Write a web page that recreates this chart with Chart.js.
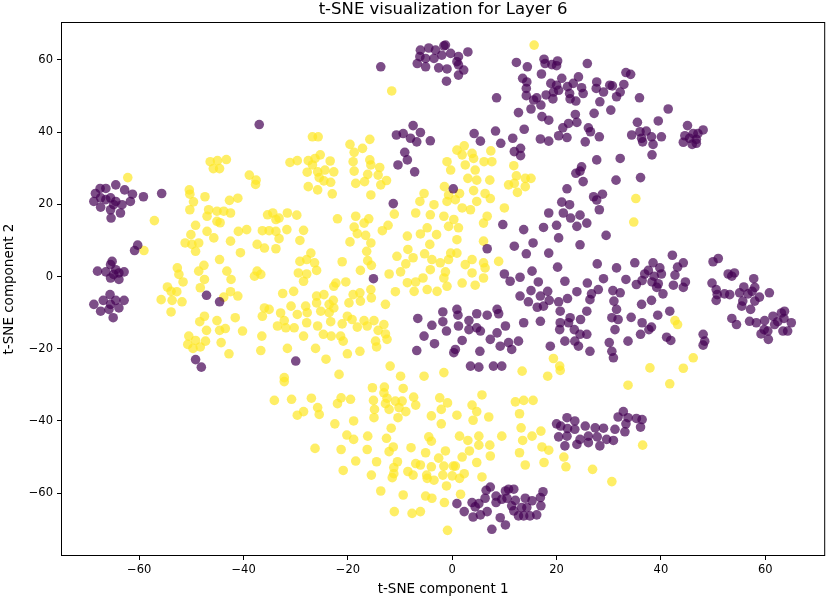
<!DOCTYPE html>
<html>
<head>
<meta charset="utf-8">
<title>t-SNE visualization for Layer 6</title>
<script src="https://cdn.jsdelivr.net/npm/chart.js@4.4.1/dist/chart.umd.min.js"></script>
<style>
  html, body { margin: 0; padding: 0; background: #fff; }
  #wrap { width: 830px; height: 600px; }
</style>
</head>
<body>
<div id="wrap"><canvas id="myChart" width="830" height="600"></canvas></div>
<script>
// values, [component 1, component 2]
const labelNames = ['0', '1'];

const purplePts = [
  [-37.0,42.1],[-68.4,23.0],[-67.5,24.4],[-66.4,24.4],[-64.5,25.4],[-62.8,24.0],[-61.3,22.8],[-59.2,22.1],[-55.7,23.0],
  [-68.7,20.8],[-67.4,21.8],[-66.4,21.3],[-65.5,21.8],[-64.5,20.8],[-63.3,19.9],[-61.7,20.8],[-67.4,19.2],[-65.5,18.5],
  [-63.6,17.6],[-65.4,16.2],[-64.9,19.9],[-60.3,8.7],[-60.9,7.2],
  [-68.0,1.5],[-66.4,1.3],[-65.5,3.3],[-65.2,4.2],[-64.5,1.9],[-63.9,1.0],[-62.9,1.3],[-65.5,-0.4],[-63.9,-0.8],[-64.9,0.6],
  [-68.7,-7.7],[-67.4,-9.6],[-66.9,-6.6],[-65.6,-5.0],[-65.5,-7.7],[-64.5,-6.6],[-63.9,-8.7],[-62.9,-6.6],[-65.0,-11.4],[-65.8,-9.1],
  [-47.1,-5.2],[-44.6,-7.0],[-49.2,-23.0],[-48.1,-25.1],
  [-6.1,62.7],[-4.5,63.3],[-3.2,62.7],[-1.6,63.9],[-2.0,61.3],[-3.5,60.4],[-5.1,60.4],[-6.7,59.0],[-5.1,58.1],[-2.6,57.8],
  [-1.0,57.5],[-1.1,54.1],[-6.2,60.9],[-1.3,64.1],[-0.3,61.8],[1.2,60.9],[3.0,62.2],[1.2,58.6],[2.2,57.2],[1.2,55.8],[0.9,59.5],
  [-13.7,58.1],
  [-10.7,39.2],[-9.4,39.6],[-7.5,41.8],[-6.1,39.9],[-8.0,38.3],[-6.8,37.3],[-4.2,37.6],[-9.1,34.4],[-8.6,32.3],[-10.4,30.9],[-7.2,29.0],
  [0.2,24.3],[-11.3,20.2],
  [12.3,59.3],[14.4,58.1],[17.6,60.2],[17.8,59.0],[19.1,58.7],[20.2,59.7],[20.0,58.4],[17.1,56.1],[13.5,54.9],[14.3,53.9],
  [14.2,52.1],[14.2,50.1],[15.6,48.9],[15.1,46.4],[16.2,49.5],[17.0,47.5],[12.7,45.4],[8.5,49.5],[18.9,53.5],[20.0,53.0],
  [19.4,51.1],[21.0,54.9],[18.0,50.3],[19.3,49.2],[20.4,51.6],[22.1,52.6],[22.5,50.7],[22.6,49.2],[23.7,48.6],[23.2,53.5],
  [24.2,55.3],[24.8,52.3],[25.1,50.7],[25.9,59.0],[27.7,53.9],[27.6,52.1],[29.0,51.1],[28.3,48.4],[30.2,53.0],[30.7,52.8],
  [32.2,51.1],[31.5,49.8],[32.9,53.2],[33.3,56.5],[34.2,56.0],[35.9,49.5],[30.4,46.1],[27.2,45.2],[23.6,44.9],[23.9,42.7],
  [22.3,42.4],[21.2,41.2],[20.4,39.0],[22.0,38.5],[17.2,44.3],[18.5,43.3],[13.8,40.8],[11.6,38.3],[9.3,36.9],[8.3,40.3],
  [5.4,37.5],[4.2,39.6],[11.9,34.6],[13.1,35.5],[13.1,33.5],[16.9,38.1],[18.5,37.5],[25.5,37.3],[26.1,41.2],[26.5,40.1],
  [28.2,38.7],[35.5,42.7],[34.4,39.2],[36.0,40.1],[36.5,37.3],
  [27.7,32.3],[32.2,32.7],[24.8,30.4],[24.5,29.2],[23.7,28.6],[25.1,26.3],[31.4,26.7],[36.1,27.4],[22.0,24.3],[27.1,22.1],
  [28.8,22.8],[27.7,21.2],
  [41.4,46.4],[39.5,43.1],[37.2,40.3],[36.3,38.3],[38.2,38.7],[40.1,38.7],[38.5,36.6],[38.3,33.7],
  [45.1,41.8],[44.6,39.0],[44.3,37.2],[46.2,39.6],[47.1,39.6],[48.1,40.6],[46.0,36.6],[46.8,38.0],[45.5,38.3],[46.8,36.9],
  [-15.1,-0.6],[-30.0,-23.4],[-6.6,-11.6],[-3.9,-13.5],[-1.8,-9.8],[-1.8,-12.5],[-1.1,-15.1],[-5.4,-16.5],[-3.4,-18.6],[-6.8,-20.5],
  [9.7,14.4],[13.7,13.0],[11.9,8.4],[14.2,6.3],[15.5,9.3],[18.5,6.5],[17.5,13.6],[18.5,17.6],[20.0,14.2],[20.4,10.7],
  [21.0,20.6],[22.5,19.9],[21.3,17.6],[22.7,16.2],[24.5,17.0],[23.9,13.9],[25.8,14.8],[24.5,8.8],[28.2,18.5],[29.5,11.4],
  [6.7,7.7],[10.0,0.7],[11.1,-1.3],[13.0,-0.2],[15.3,1.5],[16.5,-1.5],[15.1,-3.9],[13.0,-5.4],[14.6,-7.0],[16.3,-8.5],
  [17.5,-8.2],[16.9,-5.4],[18.3,-4.1],[20.2,2.6],[18.6,-6.6],[20.4,-7.0],[21.6,-1.3],[22.1,-6.1],[23.9,-4.2],[20.7,-9.6],
  [22.6,-11.4],[20.7,-12.8],[22.3,-12.8],[20.6,-14.7],[21.6,-17.9],[23.4,-14.7],[23.5,-17.9],[24.2,-19.3],[24.6,-11.9],[25.8,-9.6],
  [26.4,-6.4],[26.7,-4.8],[28.0,-3.6],[25.9,-1.8],[27.8,3.5],[29.0,-0.6],[31.5,2.4],[30.8,-3.9],[32.2,-4.5],[31.0,-6.8],
  [31.5,-9.1],[30.6,-11.4],[31.8,-11.9],[31.2,-14.7],[33.3,-0.8],[35.0,3.8],[35.3,-2.2],[36.3,-7.7],[33.7,-17.9],[36.1,-16.0],
  [30.1,-18.3],[30.6,-20.7],[30.9,-22.5],[26.4,-20.7],[25.8,-16.0],[24.5,-16.0],[0.9,-9.1],[1.1,-10.7],[3.2,-12.2],[4.7,-10.3],
  [6.7,-10.7],[8.6,-9.1],[8.9,-10.3],[1.2,-13.7],[3.2,-14.7],[4.7,-14.2],[5.4,-15.1],[7.3,-17.4],[8.6,-15.6],[10.2,-13.7],
  [10.8,-18.3],[11.4,-20.2],[12.7,-17.9],[9.2,-19.3],[13.7,-12.8],[16.9,-12.4],[18.8,-19.3],[0.6,-20.2],[0.3,-21.1],[5.3,-20.7],
  [3.5,-24.8],[5.1,-25.1],[7.9,-24.8],[9.5,-24.8],[1.9,-17.7],
  [38.5,3.8],[37.6,1.7],[39.8,2.4],[40.1,0.7],[38.7,0.1],[36.9,0.7],[36.4,-1.1],[38.3,-1.5],[39.5,-2.0],[39.2,-3.0],
  [40.4,-4.8],[42.2,5.9],[43.2,2.6],[44.3,3.8],[42.7,0.4],[42.4,-2.4],[44.3,-3.0],[44.7,-1.5],[38.2,-6.6],[39.4,-10.7],
  [41.7,-9.6],[34.3,-11.3],[36.4,-12.8],[38.2,-14.0],[37.7,-14.7],[41.1,-16.8],[41.9,-17.7],[48.1,-16.0],[48.4,-17.9],[48.1,-19.0],
  [50.0,4.1],[51.0,5.0],[49.8,-1.8],[50.6,-3.6],[50.8,-5.0],[50.6,-6.6],[52.2,-4.8],[53.2,-5.0],[52.9,0.7],[54.1,1.0],
  [53.6,0.1],[55.1,-4.5],[55.9,-2.9],[55.7,-6.8],[55.5,-8.2],[57.2,-9.1],[56.7,-4.8],[57.8,-0.6],[58.0,-3.0],[57.5,-4.1],
  [58.0,-6.8],[58.9,-5.7],[60.8,-4.5],[53.6,-11.6],[54.5,-13.3],[57.0,-12.4],[58.3,-12.8],[59.9,-12.2],[61.5,-11.0],[62.4,-12.5],
  [63.1,-10.1],[63.7,-9.6],[63.6,-11.6],[65.0,-12.8],[60.5,-15.1],[59.2,-15.9],[60.6,-17.4],[63.4,-15.1],[64.3,-15.1],[61.8,-13.3],
  [59.8,-14.7],
  [0.9,-62.9],[2.3,-65.1],[3.8,-62.6],[4.4,-63.8],[4.0,-66.6],[5.4,-66.0],[5.1,-62.9],[6.3,-61.4],[6.7,-65.1],[6.5,-59.2],
  [7.3,-58.3],[8.4,-60.8],[8.4,-62.6],[9.5,-61.7],[10.2,-59.4],[10.8,-58.9],[11.8,-58.9],[10.5,-61.4],[11.4,-63.5],[12.1,-62.0],
  [9.2,-66.8],[10.2,-68.8],[7.6,-70.0],[12.7,-66.3],[13.7,-66.3],[14.0,-61.4],[15.3,-62.1],[14.3,-64.0],[14.9,-66.3],[16.2,-66.0],
  [17.0,-63.5],[16.9,-61.2],[17.4,-59.6],[13.3,-64.0],[11.8,-64.9],
  [20.0,-40.8],[20.8,-41.4],[22.0,-39.1],[23.5,-40.0],[22.1,-42.1],[23.5,-42.3],[22.0,-44.2],[20.4,-44.4],[21.6,-46.9],[23.9,-46.5],
  [24.5,-45.1],[25.5,-41.4],[26.1,-44.2],[27.4,-41.9],[29.0,-42.0],[27.8,-44.4],[26.1,-46.0],[28.3,-46.9],[29.6,-45.1],[30.9,-45.4],
  [31.2,-42.3],[31.8,-38.9],[32.8,-37.4],[33.7,-39.1],[33.3,-40.8],[33.1,-43.0],[35.3,-39.3],[36.1,-41.7],[36.4,-39.6]
];

const yellowPts = [
  [-46.4,31.8],[-45.0,32.1],[-45.8,29.9],[-44.6,29.9],[-43.3,32.4],[-62.2,27.4],[-38.9,28.1],[-37.6,26.7],[-37.7,25.5],
  [-50.4,24.0],[-50.3,22.8],[-47.4,22.1],[-49.6,20.7],[-42.7,21.1],[-41.1,21.7],[-57.1,15.5],[-59.1,7.2],
  [-50.3,18.5],[-46.7,18.5],[-45.1,18.1],[-43.8,18.1],[-42.5,17.6],[-47.0,16.7],[-45.1,15.3],[-44.5,14.9],[-49.2,14.2],[-50.1,11.6],
  [-47.0,12.5],[-45.7,10.7],[-42.5,9.8],[-41.0,12.5],[-39.4,13.0],[-37.4,8.9],[-51.2,9.3],[-49.9,8.9],[-48.6,9.3],[-49.2,7.0],
  [-40.6,6.6],[-44.6,4.7],[-52.7,2.4],[-52.4,0.6],[-51.6,-1.5],[-48.6,1.5],[-47.6,3.1],[-47.5,-0.8],[-48.3,-3.1],[-43.2,1.5],
  [-42.4,-0.8],[-37.9,0.1],[-37.4,1.5],[-54.6,-2.9],[-53.9,-4.1],[-52.8,-4.2],[-55.8,-6.4],[-53.7,-6.6],[-51.8,-7.0],[-43.8,-5.7],
  [-42.5,-4.2],[-41.1,-5.4],[-53.9,-9.8],[-47.5,-11.0],[-48.4,-12.5],[-45.1,-12.2],[-41.6,-11.4],[-47.1,-14.9],[-44.6,-14.9],[-43.5,-14.4],
  [-40.2,-15.1],[-50.5,-16.5],[-49.2,-17.7],[-47.3,-17.9],[-50.7,-18.8],[-49.7,-19.9],[-48.3,-19.5],[-44.3,-18.3],[-42.8,-21.4],[-36.7,-20.5],
  [-11.6,51.4],[-26.8,38.7],[-25.7,38.7],[-19.6,36.6],[-18.8,34.4],[-17.2,35.5],[-15.8,38.0],[-31.1,31.6],[-29.7,32.1],[-27.6,32.1],
  [-26.3,32.7],[-25.3,33.7],[-23.4,32.0],[-26.8,30.9],[-27.8,28.9],[-25.8,29.0],[-24.4,29.5],[-22.7,29.0],[-25.5,27.4],[-24.6,26.5],
  [-23.3,26.1],[-27.6,24.9],[-25.8,24.0],[-23.0,22.9],[-19.0,31.8],[-15.8,32.3],[-15.6,30.9],[-13.9,30.2],[-18.8,29.2],[-16.2,28.3],
  [-14.2,28.1],[-13.7,25.4],[-12.6,26.6],[-18.5,25.8],[-16.8,26.3],[-15.6,22.6],[-5.4,23.0],[-1.5,24.9],[-0.7,22.6],[-1.0,31.8],[-0.3,29.5],
  [15.7,64.1],[0.9,35.0],[2.3,36.2],[3.8,34.1],[4.1,32.7],[1.9,33.7],[2.5,30.9],[4.4,29.5],[6.1,31.8],[7.6,31.8],
  [7.4,34.8],[3.0,27.2],[4.7,26.7],[7.2,26.7],[11.8,30.7],[12.3,27.9],[14.0,27.2],[15.1,27.2],[10.8,25.4],[11.9,25.8],
  [14.0,24.9],[12.5,23.3],[1.4,23.0],[4.1,23.8],[6.3,23.0],[7.3,21.6],[35.2,21.6],
  [-36.0,7.9],[-36.7,0.6],[-35.4,17.1],[-34.4,17.6],[-33.8,15.8],[-33.2,16.2],[-31.6,17.6],[-29.8,17.0],[-36.4,12.7],[-35.1,12.7],
  [-33.8,12.5],[-33.2,10.5],[-31.7,13.0],[-33.8,7.7],[-29.2,10.0],[-28.5,12.8],[-22.0,16.0],[-18.5,16.7],[-16.9,14.8],[-16.0,16.0],
  [-18.8,13.7],[-18.2,11.9],[-16.6,11.4],[-19.6,9.6],[-15.6,9.3],[-13.4,12.7],[-12.3,14.2],[-11.1,17.3],[-16.4,7.0],[-16.2,4.4],
  [-15.5,3.1],[-17.6,1.7],[-21.1,4.1],[-27.1,6.5],[-29.2,4.2],[-27.9,4.7],[-26.4,3.8],[-29.5,1.0],[-27.9,0.7],[-26.0,1.7],
  [-28.5,-1.3],[-22.3,-1.8],[-20.4,-1.5],[-22.7,-2.7],[-32.5,-4.7],[-30.4,-4.1],[-26.0,-5.4],[-24.6,-5.0],[-22.8,-6.6],[-26.0,-7.3],
  [-23.6,-7.7],[-25.2,-9.6],[-23.6,-10.0],[-22.7,-8.7],[-19.8,-7.3],[-19.0,-5.0],[-17.7,-4.5],[-17.6,-6.8],[-15.6,-3.6],[-15.5,-5.9],
  [-12.8,-7.7],[-10.9,-4.2],[-12.1,0.7],[-10.6,5.6],[-8.6,11.2],[-6.1,11.8],[-7.0,17.6],[-6.2,20.8],[-3.5,19.9],[-4.2,17.1],
  [-1.6,16.7],[-4.8,13.5],[-3.0,11.6],[-4.3,8.9],[-0.7,13.9],[-8.5,7.5],[-7.5,5.2],[-8.9,3.5],[-9.9,1.3],[-8.6,-1.7],
  [-7.0,-1.5],[-7.3,-4.1],[-5.6,-0.4],[-4.8,-3.6],[-2.9,-4.1],[-1.0,-2.7],[-5.3,6.3],[-3.9,4.7],[-4.2,1.9],[-2.3,3.8],
  [-1.3,1.3],[-0.3,6.5],[-36.0,-8.7],[-35.1,-9.1],[-32.9,-10.1],[-30.9,-8.2],[-29.7,-10.5],[-28.1,-8.2],[-27.8,-10.0],[-36.4,-11.0],
  [-32.2,-12.2],[-33.5,-13.7],[-31.9,-14.2],[-30.3,-14.2],[-27.9,-12.8],[-25.8,-13.7],[-23.3,-12.5],[-21.1,-13.1],[-20.1,-11.0],[-19.2,-11.9],
  [-16.9,-12.2],[-15.0,-12.2],[-13.1,-13.3],[-18.2,-14.0],[-16.3,-13.7],[-14.2,-14.9],[-12.8,-15.9],[-12.5,-17.4],[-14.7,-17.9],[-21.4,-16.5],
  [-20.9,-17.9],[-24.7,-16.0],[-23.2,-16.5],[-28.5,-16.5],[-36.5,-16.5],[-31.6,-19.9],[-26.2,-19.9],[-24.2,-22.9],[-20.1,-21.4],[-17.7,-20.7],
  [-14.5,-19.5],[-11.9,-24.8],[-9.9,-27.6],[-5.4,-27.6],[-1.6,-26.6],[-21.7,-27.1],[-32.2,-28.0],
  [-1.0,20.8],[0.6,21.3],[1.9,19.0],[3.5,18.5],[4.7,20.8],[6.7,16.7],[6.0,14.8],[0.3,15.8],[1.2,13.5],[0.9,10.2],
  [0.9,6.5],[-0.7,4.7],[2.5,3.3],[3.8,4.7],[6.0,3.8],[6.3,2.4],[3.8,1.0],[1.9,-1.8],[4.4,-2.4],[6.0,-0.4],
  [8.9,4.2],[10.0,19.0],[34.8,15.1],[6.0,9.8],[-1.6,-0.4],[19.4,-22.7],[20.6,-24.8],[20.7,-26.0],[13.4,-26.2],[18.3,-27.6],
  [42.7,-12.2],[43.2,-13.3],[46.2,-22.5],[37.9,-25.3],[44.3,-25.4],
  [-32.2,-29.1],[-34.1,-34.3],[-30.8,-34.0],[-27.0,-33.7],[-25.8,-36.3],[-28.5,-37.4],[-29.7,-38.4],[-25.5,-38.2],[-22.0,-35.2],[-21.3,-33.6],
  [-19.5,-34.0],[-22.5,-40.8],[-18.9,-40.0],[-20.2,-43.9],[-18.9,-45.1],[-26.3,-47.6],[-21.3,-47.9],[-18.5,-51.1],[-20.9,-53.7],[-15.3,-30.8],
  [-13.0,-30.6],[-13.1,-32.2],[-15.1,-34.3],[-12.5,-33.7],[-10.9,-34.5],[-9.6,-34.5],[-12.8,-35.2],[-14.9,-36.8],[-12.1,-36.8],[-10.2,-36.3],
  [-8.9,-37.4],[-10.4,-39.1],[-15.0,-39.1],[-9.4,-31.0],[-7.4,-33.4],[-7.0,-35.6],[-2.4,-33.6],[-0.9,-35.0],[-2.1,-36.8],[-4.0,-38.6],
  [-2.1,-40.8],[-11.7,-42.0],[-16.2,-44.2],[-12.6,-44.8],[-4.5,-44.4],[-4.0,-45.6],[-16.3,-47.9],[-11.3,-47.2],[-12.1,-48.5],[-7.9,-47.4],
  [-5.1,-48.8],[-1.3,-48.3],[-2.6,-50.3],[-14.5,-51.3],[-10.5,-51.3],[-11.2,-52.9],[-11.2,-54.6],[-11.5,-55.7],[-15.5,-55.0],[-8.5,-54.0],
  [-7.5,-55.0],[-7.0,-51.8],[-6.1,-52.2],[-4.0,-52.7],[-1.6,-52.5],[-4.9,-55.0],[-4.8,-55.9],[-3.5,-56.4],[-1.8,-55.0],[0.0,-55.2],
  [-1.1,-58.0],[-13.7,-59.4],[-9.4,-60.5],[-5.1,-60.8],[-3.9,-61.4],[-1.5,-62.6],[-11.1,-65.1],[-7.7,-65.6],[-6.1,-65.1],[-0.9,-70.3],[0.2,-52.5],
  [33.7,-30.1],[5.7,-32.8],[3.8,-35.6],[4.7,-37.4],[0.9,-38.4],[4.0,-39.8],[7.0,-38.9],[12.1,-34.7],[13.7,-34.3],[15.5,-34.3],
  [12.9,-38.0],[13.2,-41.9],[17.0,-42.8],[15.3,-44.2],[13.5,-45.4],[9.5,-44.2],[1.4,-44.2],[3.0,-45.4],[5.1,-44.2],[5.1,-46.7],
  [7.2,-46.7],[17.2,-47.2],[18.5,-48.1],[12.9,-48.8],[14.0,-52.2],[17.6,-51.5],[21.4,-50.0],[21.8,-52.7],[26.9,-53.4],[30.6,-56.8],
  [36.5,-46.7],[1.9,-50.0],[3.3,-48.3],[7.3,-49.7],[4.7,-51.5],[0.6,-52.5],[1.4,-55.9],[2.3,-54.6],[5.7,-55.5],[1.6,-60.3],
  [41.7,-29.7]
];

const xTicks = [-60, -40, -20, 0, 20, 40, 60];
const yTicks = [-60, -40, -20, 0, 20, 40, 60];
const xRange = [-75, 71.5];
const yRange = [-77.4, 70.5];

const FONT = 'DejaVu Sans';

function toPoints(arr) {
    return arr.map(p => ({ x: p[0], y: p[1] }));
}

function minusSign(v) {
    return String(v).replace('-', '\u2212');
}

// title + four spines, like matplotlib
const framePlugin = {
    id: 'frame',
    afterDraw(chart) {
        const ctx = chart.ctx;
        const a = chart.chartArea;
        ctx.save();
        ctx.strokeStyle = '#000';
        ctx.lineWidth = 1;
        ctx.strokeRect(a.left + 0.5, a.top + 0.5, a.right - a.left - 1, a.bottom - a.top - 1);
        ctx.fillStyle = '#000';
        ctx.font = '16.5px "' + FONT + '"';
        ctx.textAlign = 'center';
        ctx.textBaseline = 'middle';
        ctx.fillText('t-SNE visualization for Layer 6', (a.left + a.right) / 2, 10);
        ctx.restore();
    }
};

const ctx = document.getElementById('myChart');

new Chart(ctx, {
    type: 'scatter',
    data: {
        datasets: [{
            label: labelNames[0],
            data: toPoints(purplePts),
            backgroundColor: 'rgba(68, 1, 84, 0.7)',
            borderWidth: 0,
            pointRadius: 4.8
        }, {
            label: labelNames[1],
            data: toPoints(yellowPts),
            backgroundColor: 'rgba(253, 231, 37, 0.7)',
            borderWidth: 0,
            pointRadius: 4.8
        }]
    },
    options: {
        responsive: false,
        animation: false,
        layout: { padding: { left: 0, top: 22, right: 3, bottom: 0 } },
        plugins: {
            legend: { display: false },
            tooltip: { enabled: false },
            title: { display: false }
        },
        scales: {
            x: {
                type: 'linear',
                min: xRange[0],
                max: xRange[1],
                afterBuildTicks: s => { s.ticks = xTicks.map(v => ({ value: v })); },
                afterFit: s => { s.height = 44; },
                grid: { drawOnChartArea: false, drawTicks: true, tickLength: 4, color: '#000' },
                border: { display: false },
                ticks: {
                    color: '#000',
                    padding: 3,
                    font: { family: FONT, size: 11.5 },
                    callback: v => minusSign(v)
                },
                title: {
                    display: true,
                    text: 't-SNE component 1',
                    color: '#000',
                    font: { family: FONT, size: 13.5 },
                    padding: { top: 2, bottom: 2 }
                }
            },
            y: {
                type: 'linear',
                min: yRange[0],
                max: yRange[1],
                afterBuildTicks: s => { s.ticks = yTicks.map(v => ({ value: v })); },
                afterFit: s => { s.width = 61; },
                grid: { drawOnChartArea: false, drawTicks: true, tickLength: 4, color: '#000' },
                border: { display: false },
                ticks: {
                    color: '#000',
                    padding: 4,
                    font: { family: FONT, size: 11.5 },
                    callback: v => minusSign(v)
                },
                title: {
                    display: true,
                    text: 't-SNE component 2',
                    color: '#000',
                    font: { family: FONT, size: 13.5 },
                    padding: { top: 1, bottom: 2 }
                }
            }
        }
    },
    plugins: [framePlugin]
});
</script>
</body>
</html>
